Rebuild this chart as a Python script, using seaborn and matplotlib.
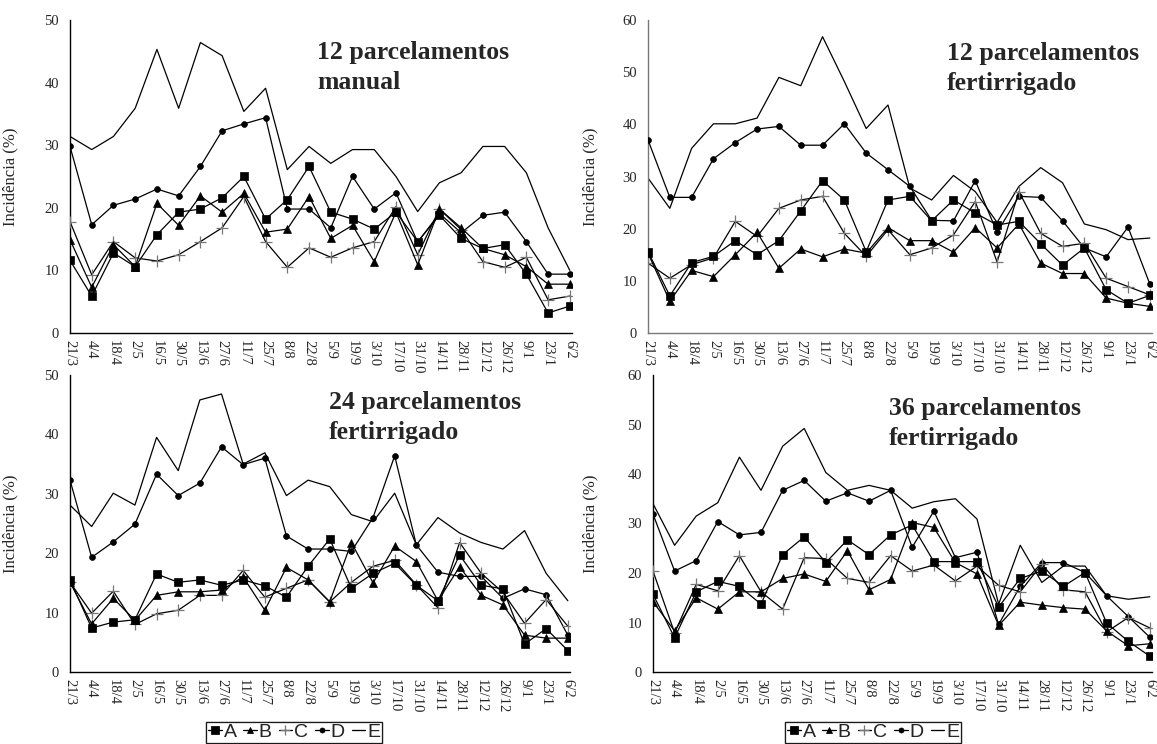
import numpy as np
import pandas as pd
import matplotlib
matplotlib.use("Agg")
import matplotlib.pyplot as plt
import seaborn as sns
from matplotlib.lines import Line2D

# ---------------- data ----------------
dates = ["21/3", "4/4", "18/4", "2/5", "16/5", "30/5", "13/6", "27/6", "11/7", "25/7",
         "8/8", "22/8", "5/9", "19/9", "3/10", "17/10", "31/10", "14/11", "28/11",
         "12/12", "26/12", "9/1", "23/1", "6/2"]
series_names = ["A", "B", "C", "D", "E"]

# Panel 1: 12 parcelamentos manual
p1_A = [11.6, 5.9, 12.8, 10.6, 15.7, 19.3, 19.8, 21.6, 25.0, 18.2, 21.3, 26.6, 19.3, 18.2,
        16.6, 19.3, 14.6, 18.8, 15.1, 13.5, 14.1, 9.4, 3.2, 4.3]
p1_B = [14.9, 7.3, 14.1, 10.6, 20.7, 17.2, 21.9, 19.3, 22.3, 16.1, 16.6, 21.8, 15.1, 17.2,
        11.4, 19.3, 10.9, 19.8, 16.8, 13.5, 12.5, 10.6, 7.8, 7.8]
p1_C = [17.8, 9.3, 14.6, 12.0, 11.5, 12.5, 14.6, 16.8, 21.8, 14.6, 10.5, 13.6, 12.1, 13.6,
        14.6, 20.2, 12.5, 19.8, 16.5, 11.4, 10.5, 12.1, 5.3, 5.9]
p1_D = [29.8, 17.3, 20.4, 21.4, 23.0, 21.9, 26.6, 32.3, 33.4, 34.4, 19.8, 19.8, 16.8, 25.0,
        19.8, 22.4, 14.5, 19.1, 16.0, 18.8, 19.3, 14.6, 9.4, 9.4]
p1_E = [31.4, 29.3, 31.4, 35.9, 45.3, 35.9, 46.4, 44.3, 35.4, 39.1, 26.1, 29.8, 27.1, 29.3,
        29.3, 25.0, 19.4, 24.0, 25.6, 29.8, 29.8, 25.6, 16.8, 10.0]

# Panel 2: 12 parcelamentos fertirrigado
p2_A = [15.6, 7.1, 13.5, 14.7, 17.7, 15.0, 17.7, 23.4, 29.2, 25.5, 15.6, 25.5, 26.2, 21.5,
        25.5, 23.0, 20.7, 21.4, 17.1, 13.0, 16.3, 8.3, 5.7, 7.2]
p2_B = [15.3, 6.1, 12.0, 10.8, 15.0, 19.3, 12.4, 16.1, 14.6, 16.1, 15.3, 20.2, 17.7, 17.7,
        15.5, 20.2, 16.3, 20.9, 13.4, 11.4, 11.4, 6.7, 5.7, 5.1]
p2_C = [13.4, 10.5, 13.1, 14.4, 21.4, 18.5, 23.9, 25.5, 26.2, 19.1, 14.7, 19.8, 15.0, 16.3,
        18.8, 25.2, 13.6, 27.1, 19.1, 16.6, 17.2, 10.5, 8.9, 7.3]
p2_D = [37.0, 26.0, 26.0, 33.4, 36.5, 39.1, 39.6, 36.0, 36.0, 40.1, 34.5, 31.3, 28.1, 21.6,
        21.5, 29.2, 19.3, 26.2, 26.0, 21.5, 16.3, 14.6, 20.3, 9.4]
p2_E = [29.7, 23.9, 35.4, 40.1, 40.1, 41.2, 49.0, 47.4, 56.8, 48.2, 39.2, 43.7, 27.8, 25.5,
        30.2, 27.1, 21.2, 28.1, 31.7, 28.8, 20.9, 19.8, 17.9, 18.2]

# Panel 3: 24 parcelamentos fertirrigado
p3_A = [15.5, 7.4, 8.4, 8.8, 16.5, 15.1, 15.5, 14.6, 15.5, 14.5, 12.6, 17.8, 22.4, 14.1,
        16.6, 18.3, 14.6, 12.0, 19.7, 14.6, 14.0, 4.7, 7.3, 3.6]
p3_B = [15.1, 8.1, 12.4, 8.7, 12.9, 13.5, 13.5, 13.8, 16.0, 10.4, 17.6, 15.5, 11.8, 21.8,
        15.0, 21.2, 18.6, 12.0, 17.7, 12.9, 11.3, 6.2, 5.7, 5.7]
p3_C = [15.1, 9.9, 13.6, 8.0, 9.8, 10.4, 12.9, 12.9, 17.1, 12.6, 14.1, 15.5, 11.8, 15.1,
        17.8, 18.8, 14.7, 10.8, 21.8, 16.6, 13.4, 8.2, 12.2, 7.7]
p3_D = [32.3, 19.3, 21.9, 24.9, 33.3, 29.7, 31.8, 37.9, 34.9, 36.0, 22.9, 20.7, 20.7, 20.3,
        26.0, 36.4, 21.4, 16.8, 16.1, 16.1, 12.4, 14.0, 13.0, 6.2]
p3_E = [28.1, 24.5, 30.1, 28.1, 39.5, 33.9, 45.8, 46.8, 35.0, 36.9, 29.7, 32.3, 31.2, 26.5,
        25.3, 30.1, 21.4, 26.0, 23.4, 21.8, 20.7, 23.8, 16.6, 12.0]

# Panel 4: 36 parcelamentos fertirrigado
p4_A = [15.7, 6.9, 16.2, 18.3, 17.3, 13.7, 23.7, 27.3, 22.1, 26.7, 23.7, 27.7, 29.7, 22.3,
        22.3, 22.3, 13.1, 18.9, 20.4, 17.3, 20.1, 9.9, 6.2, 3.2]
p4_B = [14.2, 8.3, 15.0, 12.7, 16.2, 16.2, 18.9, 19.8, 18.3, 24.5, 16.6, 18.7, 30.2, 29.2,
        22.1, 19.8, 9.4, 14.1, 13.5, 13.0, 12.7, 8.3, 5.3, 5.7]
p4_C = [20.4, 7.9, 17.7, 16.4, 23.5, 16.2, 12.7, 23.1, 22.9, 18.9, 18.1, 23.5, 20.4, 21.6,
        18.4, 21.4, 17.5, 16.2, 21.8, 16.6, 16.2, 8.1, 11.0, 8.9]
p4_D = [31.9, 20.4, 22.5, 30.4, 27.7, 28.2, 36.7, 38.7, 34.5, 36.2, 34.5, 36.7, 25.2, 32.5,
        23.1, 24.2, 9.6, 17.3, 22.1, 22.1, 20.1, 15.4, 11.2, 7.0]
p4_E = [34.0, 25.6, 31.5, 34.2, 43.4, 36.7, 45.6, 49.2, 40.3, 36.7, 37.7, 36.7, 33.1, 34.4,
        35.0, 30.9, 13.7, 25.6, 18.1, 21.4, 21.4, 15.4, 14.7, 15.2]

titles = ["12 parcelamentos\nmanual", "12 parcelamentos\nfertirrigado",
          "24 parcelamentos\nfertirrigado", "36 parcelamentos\nfertirrigado"]
ylabel = "Incidência (%)"

panels = [
    dict(A=p1_A, B=p1_B, C=p1_C, D=p1_D, E=p1_E),
    dict(A=p2_A, B=p2_B, C=p2_C, D=p2_D, E=p2_E),
    dict(A=p3_A, B=p3_B, C=p3_C, D=p3_D, E=p3_E),
    dict(A=p4_A, B=p4_B, C=p4_C, D=p4_D, E=p4_E),
]

# ---------------- style ----------------
sns.set_theme(style="white")
plt.rcParams["font.family"] = ["Liberation Serif", "DejaVu Serif"]

W, H = 1157, 744
fig = plt.figure(figsize=(W / 100, H / 100), dpi=100)


def fx(px):
    return px / W


def fy(py):
    return 1 - py / H


# pixel boxes: left, top, right, bottom
boxes = [(70, 20, 572, 333), (648, 20, 1152, 333), (70, 375, 570, 672), (653, 375, 1152, 672)]
ymaxs = [50, 60, 50, 60]
spine_colors = ["black", "#777777", "black", "black"]
title_pos = [(317, 41), (947, 42), (329, 391), (889, 397)]
ylabel_x = [18, 598, 18, 598]

styles = {
    "A": dict(marker="s", markersize=6.2, markerfacecolor="black", markeredgecolor="black", markeredgewidth=0.5),
    "B": dict(marker="^", markersize=5.2, markerfacecolor="black", markeredgecolor="black", markeredgewidth=0.5),
    "C": dict(marker="+", markersize=9, markerfacecolor="#777777", markeredgecolor="#777777", markeredgewidth=0.9),
    "D": dict(marker="o", markersize=4.2, markerfacecolor="black", markeredgecolor="black", markeredgewidth=0.5),
    "E": dict(marker=None),
}
draw_order = ["E", "D", "C", "B", "A"]

for i, (pdata, box) in enumerate(zip(panels, boxes)):
    l, t, r, b = box
    ax = fig.add_axes([fx(l), fy(b), (r - l) / W, (b - t) / H])
    df = pd.DataFrame({"pos": np.arange(len(dates))})
    for s in series_names:
        df[s] = pdata[s]
    for z, s in enumerate(draw_order):
        sns.lineplot(data=df, x="pos", y=s, ax=ax, color="black", linewidth=0.9,
                     errorbar=None, zorder=2 + z, **styles[s])
    ax.set_xlim(0, len(dates) - 1 + 0.1)
    ax.set_ylim(0, ymaxs[i])
    ax.set_yticks(np.arange(0, ymaxs[i] + 1, 10))
    ax.set_xticks(np.arange(len(dates)))
    ax.set_xticklabels(dates, rotation=-90, fontsize=10.5)
    ax.tick_params(axis="y", labelsize=10.5, length=0, pad=8)
    ax.tick_params(axis="x", length=0, pad=5)
    ax.set_xlabel("")
    ax.set_ylabel(ylabel, fontsize=12)
    ax.yaxis.set_label_coords((ylabel_x[i] - l) / (r - l), 0.5)
    for sp in ["top", "right"]:
        ax.spines[sp].set_visible(False)
    for sp in ["left", "bottom"]:
        ax.spines[sp].set_color(spine_colors[i])
        ax.spines[sp].set_linewidth(1.0)
    ax.set_facecolor("none")
    tx, ty = title_pos[i]
    fig.text(fx(tx), fy(ty), titles[i], fontsize=18.5, fontweight="bold",
             ha="left", va="top", linespacing=1.38)

# legends
handles = []
for s in series_names:
    st = dict(styles[s])
    if st.get("marker"):
        st["markersize"] = st["markersize"] * 0.85
    handles.append(Line2D([0], [0], color="black", linewidth=0.9, **st))

for cx in [294, 873]:
    leg = fig.legend(handles, series_names, loc="lower center",
                     bbox_to_anchor=(fx(cx), fy(743)), ncol=5, frameon=True,
                     fancybox=False, edgecolor="black", handlelength=0.7,
                     handletextpad=0.1, columnspacing=0.35, borderpad=0.1,
                     borderaxespad=0,
                     prop=dict(family=["Liberation Sans Narrow", "Liberation Sans"], size=14))
    leg.get_frame().set_linewidth(0.9)
    fig.add_artist(leg)

fig.savefig("out.png", dpi=100)
